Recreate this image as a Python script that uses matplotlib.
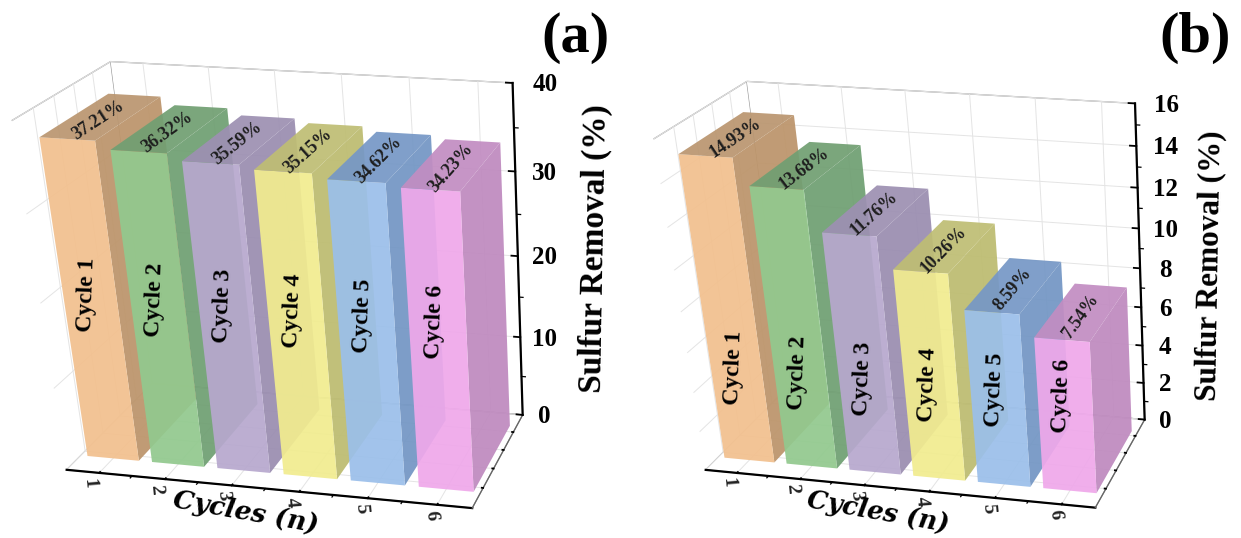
import numpy as np
import matplotlib
matplotlib.use('Agg')
import matplotlib.pyplot as plt
from matplotlib.ticker import NullFormatter
from mpl_toolkits.mplot3d import Axes3D, proj3d

plt.rcParams['font.family'] = ['Liberation Serif', 'DejaVu Serif']
plt.rcParams['font.weight'] = 'bold'

cycles = [1, 2, 3, 4, 5, 6]
cycle_labels = ['Cycle 1', 'Cycle 2', 'Cycle 3', 'Cycle 4', 'Cycle 5', 'Cycle 6']
removal_a = [37.21, 36.32, 35.59, 35.15, 34.62, 34.23]
removal_b = [14.93, 13.68, 11.76, 10.26, 8.59, 7.54]
ticks_a = [0, 10, 20, 30, 40]
ticks_b = [0, 2, 4, 6, 8, 10, 12, 14, 16]
minor_a = [5, 15, 25, 35]
minor_b = [1, 3, 5, 7, 9, 11, 13, 15]
front_colors = ['#F2C08E', '#92C98E', '#B7A8CE', '#F1EC8F', '#9BBFEA', '#EFA8EA']
side_colors = ['#BC946A', '#6F9F72', '#9A8DB0', '#BDBC70', '#7396C4', '#BF8ABF']
top_colors = ['#BA9670', '#719F72', '#9D90B2', '#BFBE74', '#7698C6', '#C28DC2']

W, H = 1241, 538
NONE = (0, 0, 0, 0)

# camera: elev, azim, focal, y aspect, z aspect, shears
VIEW_A = (22.770, -79.230, 0.573, 0.508, 0.913, -0.067, 0.085, -0.103)
VIEW_B = (23.370, -79.050, 0.592, 0.493, 0.905, -0.066, 0.085, -0.108)
POS_A = [-0.0077, -0.0691, 0.4648, 1.0722]
POS_B = [0.5105, -0.0651, 0.4448, 1.0261]


def shear_matrix(kxz, kxy, kyz, xlo, xhi, ylo, yhi, zlo, zhi):
    # the original plot is not a plain camera, mplot3d needs a small shear to match it
    m = np.eye(4)
    xs, ys, zs = xhi - xlo, yhi - ylo, zhi - zlo
    m[0, 2] = kxz * xs / zs
    m[0, 1] = kxy * xs / ys
    m[0, 3] = -kxz * xs * (zlo / zs + 0.5) - kxy * xs * (ylo / ys + 0.5)
    m[1, 2] = kyz * ys / zs
    m[1, 3] = -kyz * ys * (zlo / zs + 0.5)
    return m


def rgba(c, alpha=0.93):
    return matplotlib.colors.to_rgba(c, alpha)


def panel(fig, pos, view, values, zmax, zticks, zminor, label_z, y0, y1, bar_w):
    elev, azim, focal, ay, az, kxz, kxy, kyz = view
    ax = fig.add_axes(pos, projection='3d')
    ax.patch.set_alpha(0)
    ax.view_init(elev=elev, azim=azim)
    ax.set_proj_type('persp', focal_length=focal)
    ax.set_box_aspect((1, ay, az))
    ax.set_xlim(0.5, 6.5, view_margin=0)
    ax.set_ylim(0, 1, view_margin=0)
    ax.set_zlim(0, zmax, view_margin=0)
    ax.computed_zorder = False
    shear = shear_matrix(kxz, kxy, kyz, 0.5, 6.5, 0, 1, 0, zmax)
    ax.get_proj = lambda: Axes3D.get_proj(ax) @ shear

    ax.set_xticks(cycles)
    ax.set_yticks([0.2, 0.4, 0.6, 0.8])
    ax.set_zticks(zticks)
    for axis in (ax.xaxis, ax.yaxis, ax.zaxis):
        axis.set_major_formatter(NullFormatter())
        axis.set_pane_color((1, 1, 1, 1))
        axis.pane.set_edgecolor('#9a9a9a')
        axis.pane.set_linewidth(0.9)
        axis._axinfo['grid']['color'] = '#e4e4e4'
        axis._axinfo['grid']['linewidth'] = 0.7
        axis._axinfo['tick']['linewidth'] = {True: 1.3, False: 1.0}
        axis._axinfo['tick']['color'] = 'black'
        axis._axinfo['tick']['inward_factor'] = 0.0
        axis._axinfo['tick']['outward_factor'] = 0.2
        axis.line.set_color('black')
        axis.line.set_linewidth(1.6)
    ax.xaxis._axinfo['tick']['outward_factor'] = 0.12
    ax.yaxis._axinfo['tick']['outward_factor'] = 0.04
    ax.yaxis._axinfo['tick']['color'] = '#777777'
    ax.yaxis.line.set_color('#666666')
    ax.yaxis.line.set_linewidth(0.9)

    for z in zminor:
        ax.plot([6.5, 6.56], [1, 1], [z, z], color='black', lw=0.9)
    for x in [1.5, 2.5, 3.5, 4.5, 5.5]:
        ax.plot([x, x], [0, -0.02], [0, 0], color='black', lw=0.9)

    M = ax.get_proj()

    def put(x, y, z, s, **kw):
        X, Y, _ = proj3d.proj_transform(x, y, z, M)
        ax.text2D(X, Y, s, transform=ax.transData, ha='center', va='center', zorder=20, **kw)

    for z in zticks:
        put(6.5 + 0.33 + 0.13 * z / zmax, 1, z, str(z), fontsize=18, color='black')

    for i, (c, v) in enumerate(zip(cycles, values)):
        # faces: bottom, top, front, back, left, right
        cols = [NONE, rgba(top_colors[i]), rgba(front_colors[i]), NONE, NONE, rgba(side_colors[i])]
        ax.bar3d(c - bar_w / 2, y0, 0, bar_w, y1 - y0, v, color=cols, shade=False,
                 edgecolor='none', zorder=2 + i)
        xa, ya, _ = proj3d.proj_transform(c, y0, v, M)
        xb, yb, _ = proj3d.proj_transform(c, y1, v, M)
        angle = np.degrees(np.arctan2(yb - ya, xb - xa))
        put(c + 0.03, y0 + (y1 - y0) * 0.42, v, f'{v:.2f}%', rotation=angle, fontsize=13, color='#1e1e1e')
        put(c - 0.04, y0, label_z, cycle_labels[i], rotation=88, fontsize=17, color='black')
        put(c, -0.105, 0, str(c), rotation=-85, fontsize=14, color='#222222')
    return ax


fig = plt.figure(figsize=(12.41, 5.38), dpi=100)
panel(fig, POS_A, VIEW_A, removal_a, 40, ticks_a, minor_a, 19.8, 0.154, 0.866, 0.797)
panel(fig, POS_B, VIEW_B, removal_b, 16, ticks_b, minor_b, 4.8, 0.145, 0.851, 0.804)

fig.text(575 / W, 1 - 38 / H, '(a)', fontsize=42, ha='center', va='center')
fig.text(1195 / W, 1 - 38 / H, '(b)', fontsize=42, ha='center', va='center')
fig.text(595 / W, 1 - 248 / H, 'Sulfur Removal (%)', fontsize=24, rotation=89, ha='center', va='center')
fig.text(1210 / W, 1 - 266 / H, 'Sulfur Removal (%)', fontsize=22.5, rotation=89, ha='center', va='center')
fig.text(246 / W, 1 - 512 / H, 'Cycles (n)', fontsize=19, family='DejaVu Serif', style='italic', rotation=-10, ha='center', va='center')
fig.text(878 / W, 1 - 512 / H, 'Cycles (n)', fontsize=18.5, family='DejaVu Serif', style='italic', rotation=-10, ha='center', va='center')

fig.savefig('out.png', dpi=100)
